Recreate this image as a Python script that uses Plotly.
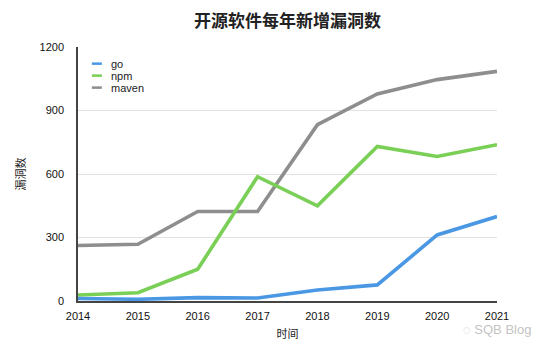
import plotly.graph_objects as go

years = [2014, 2015, 2016, 2017, 2018, 2019, 2020, 2021]
series_names = ["go", "npm", "maven"]
go_vals = [12, 8, 16, 14, 52, 76, 312, 399]
npm_vals = [28, 39, 150, 587, 450, 730, 683, 738]
maven_vals = [262, 268, 423, 423, 833, 978, 1046, 1085]
colors = ["#4A98E3", "#7ACF56", "#8E8E8E"]
y_ticks = [0, 300, 600, 900, 1200]

title_text = "开源软件每年新增漏洞数"
x_title = "时间"
y_title = "漏洞数"
watermark = "SQB Blog"

FONT = "Liberation Sans, Arial, Noto Sans CJK SC, sans-serif"
CJK = "Noto Sans CJK SC, sans-serif"

fig = go.Figure()
values = [go_vals, npm_vals, maven_vals]
for name, vals, col in reversed(list(zip(series_names, values, colors))):
    fig.add_trace(go.Scatter(x=years, y=vals, name=name, mode="lines",
                             line=dict(color=col, width=3.6),
                             showlegend=False))

# compact legend (top-left, inside plot)
for i, (name, col) in enumerate(zip(series_names, colors)):
    yy = 0.9345 - i * 0.0472
    fig.add_shape(type="line", xref="paper", yref="paper",
                  x0=0.033, x1=0.057, y0=yy, y1=yy,
                  line=dict(color=col, width=2.5))
    fig.add_annotation(xref="paper", yref="paper", x=0.073, y=yy,
                       text=name, showarrow=False, xanchor="left",
                       yanchor="middle", font=dict(family=FONT, size=11, color="#222"))

fig.add_annotation(xref="paper", yref="paper", x=1.087, y=-0.113,
                   text="◌ " + watermark, showarrow=False, xanchor="right",
                   yanchor="middle", font=dict(family=FONT, size=13, color="#c4c4c4"))

# page body has an 8px margin; margins compensate so the plot area lands
# at the same pixel positions as the reference
fig.update_layout(
    width=550, height=355,
    margin=dict(l=65, r=61, t=39, b=62),
    paper_bgcolor="white", plot_bgcolor="white",
    title=dict(text=title_text, x=0.5, xanchor="center", xref="paper",
               y=1 - 13 / 355, yanchor="middle",
               font=dict(family=CJK, size=17, color="#222", weight="bold")),
    xaxis=dict(range=[2014, 2021], tickvals=years, ticktext=[str(y) for y in years],
               showgrid=False, showline=True, linecolor="#444", linewidth=1.5,
               zeroline=False, ticks="", ticklabelstandoff=4,
               tickfont=dict(family=FONT, size=11, color="#111"),
               title=dict(text=x_title, standoff=9,
                          font=dict(family=CJK, size=11, color="#222"))),
    yaxis=dict(range=[0, 1200], tickvals=y_ticks,
               showgrid=True, gridcolor="#e2e2e2", gridwidth=1,
               showline=True, linecolor="#444", linewidth=1.5,
               zeroline=False, ticks="", ticklabelstandoff=10,
               tickfont=dict(family=FONT, size=11, color="#111"),
               title=dict(text=y_title, standoff=12,
                          font=dict(family=CJK, size=11, color="#222"))),
)

fig.write_html("out.html")
